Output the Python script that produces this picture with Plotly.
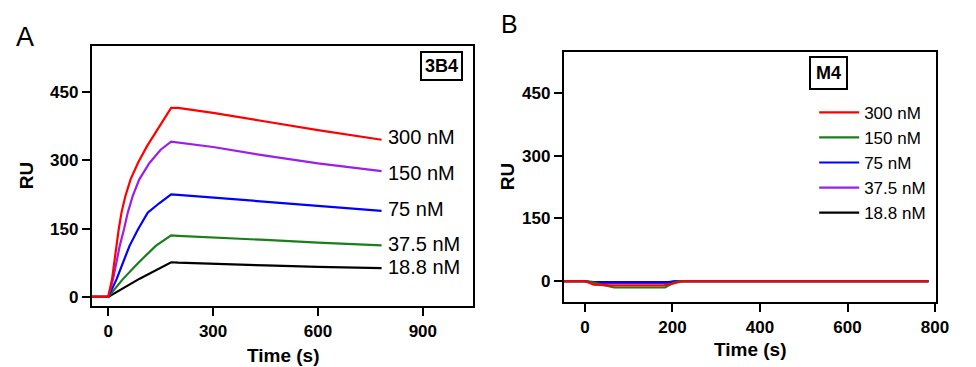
import plotly.graph_objects as go

# ---------------- Data ----------------
labels = ["300 nM", "150 nM", "75 nM", "37.5 nM", "18.8 nM"]

# Panel A (3B4): association (0-180 s) and dissociation (180-782 s)
t_a_300 = [-47, 0, 11, 23, 30, 38, 49, 64, 85, 111, 141, 165, 180, 200, 300, 450, 600, 782]
ru_a_300 = [0, 0, 39, 112, 148, 185, 221, 258, 294, 331, 367, 397, 415, 415, 404, 385, 366, 345]
t_a_150 = [-47, 0, 14, 33, 45, 56, 70, 89, 118, 150, 180, 200, 300, 450, 600, 782]
ru_a_150 = [0, 0, 39, 112, 148, 185, 221, 258, 294, 323, 341, 339, 329, 310, 293, 276]
t_a_75 = [-47, 0, 24, 42, 61, 85, 113, 145, 180, 200, 300, 450, 600, 782]
ru_a_75 = [0, 0, 39, 74, 112, 148, 185, 205, 225, 224, 218, 208, 199, 189]
t_a_37 = [-47, 0, 42, 85, 136, 180, 200, 300, 450, 600, 782]
ru_a_37 = [0, 0, 39, 74, 112, 135, 134, 131, 125, 119, 113]
t_a_18 = [-47, 0, 90, 180, 200, 300, 450, 600, 782]
ru_a_18 = [0, 0, 40, 76, 75, 72, 69, 66, 63]

# Panel B (M4)
t_b_300 = [-48, 0, 8, 20, 60, 180, 200, 222, 400, 600, 785]
ru_b_300 = [0, 0, -3, -8, -10, -10, -6, 0, 0, 0, 0]
t_b_150 = [-48, 0, 20, 67, 183, 200, 215, 785]
ru_b_150 = [0, 0, -4, -15, -15, -5, 0, 0]
t_b_75 = [-48, 0, 19, 188, 205, 785]
ru_b_75 = [0, 0, -3, -3, 0, 0]
t_b_37 = [-48, 0, 8, 30, 190, 207, 215, 785]
ru_b_37 = [0, 0, -2, -4, -4, -2, 0, 0]
t_b_18 = [-48, 0, 20, 190, 210, 785]
ru_b_18 = [0, 0, -2, -2, 0, 0]

ticks_a_x = [0, 300, 600, 900]
ticks_b_x = [0, 200, 400, 600, 800]
ticks_y = [0, 150, 300, 450]

colors_a = ["#ff0000", "#9b1fe8", "#0000ff", "#1a7f1a", "#000000"]
colors_b = ["#ff0000", "#1a7f1a", "#0000ff", "#9b1fe8", "#000000"]

FONT = "Arial, Liberation Sans, sans-serif"
# The page body has an 8px margin; lay out in reference pixels and shift.
OFF = 8
W, H = 976 - OFF, 367 - OFF


def fx(p):
    return (p - OFF) / W


def fy(p):
    return 1 - (p - OFF) / H


fig = go.Figure()

series_a = [(t_a_300, ru_a_300), (t_a_150, ru_a_150), (t_a_75, ru_a_75),
            (t_a_37, ru_a_37), (t_a_18, ru_a_18)]
for i in reversed(range(5)):
    t, r = series_a[i]
    fig.add_trace(go.Scatter(x=t, y=r, mode="lines",
                             line=dict(color=colors_a[i], width=2.2),
                             xaxis="x", yaxis="y", showlegend=False,
                             name=labels[i]))

series_b = [(t_b_300, ru_b_300), (t_b_150, ru_b_150), (t_b_75, ru_b_75),
            (t_b_37, ru_b_37), (t_b_18, ru_b_18)]
for i in reversed(range(5)):
    t, r = series_b[i]
    fig.add_trace(go.Scatter(x=t, y=r, mode="lines",
                             line=dict(color=colors_b[i], width=2.2),
                             xaxis="x2", yaxis="y2", showlegend=True,
                             name=labels[i]))

label_y_a = [352, 272, 194, 117, 65]

axis_common = dict(showline=True, linecolor="black", linewidth=2, mirror=True,
                   ticks="outside", ticklen=8, tickwidth=2, tickcolor="black",
                   showgrid=False, zeroline=False,
                   tickfont=dict(family=FONT, size=17, color="black", weight="bold"))

fig.update_layout(
    width=W, height=H,
    margin=dict(l=0, r=0, t=0, b=0),
    paper_bgcolor="white", plot_bgcolor="white",
    font=dict(family=FONT, color="black"),
    xaxis=dict(domain=[fx(93), fx(480)], range=[-47, 1044], tickvals=ticks_a_x,
               anchor="y", **axis_common),
    yaxis=dict(domain=[fy(307), fy(46)], range=[-20.4, 551], tickvals=ticks_y,
               anchor="x", **axis_common),
    xaxis2=dict(domain=[fx(572), fx(949.3)], range=[-48.3, 801.5], tickvals=ticks_b_x,
                anchor="y2", **axis_common),
    yaxis2=dict(domain=[fy(303.3), fy(51.7)], range=[-50.8, 549], tickvals=ticks_y,
                anchor="x2", **axis_common),
    legend=dict(x=fx(826), y=fy(95), xanchor="left", yanchor="top",
                traceorder="reversed", bgcolor="rgba(0,0,0,0)",
                font=dict(family=FONT, size=17, color="black"),
                itemwidth=40, tracegroupgap=0),
)

annotations = []
for lab, yv in zip(labels, label_y_a):
    annotations.append(dict(x=795, y=yv, xref="x", yref="y", text=lab,
                            showarrow=False, xanchor="left", yanchor="middle",
                            font=dict(family=FONT, size=20, color="black")))

title_font = dict(family=FONT, size=19, color="black", weight="bold")
annotations += [
    # axis titles
    dict(x=fx(287.5), y=fy(356), xref="paper", yref="paper", text="Time (s)",
         showarrow=False, xanchor="center", yanchor="middle", font=title_font),
    dict(x=fx(761), y=fy(350), xref="paper", yref="paper", text="Time (s)",
         showarrow=False, xanchor="center", yanchor="middle", font=title_font),
    dict(x=fx(27), y=fy(176), xref="paper", yref="paper", text="RU", textangle=-90,
         showarrow=False, xanchor="center", yanchor="middle", font=title_font),
    dict(x=fx(515), y=fy(177), xref="paper", yref="paper", text="RU", textangle=-90,
         showarrow=False, xanchor="center", yanchor="middle", font=title_font),
    # boxed panel names
    dict(x=fx(448), y=fy(66), xref="paper", yref="paper", text="3B4",
         showarrow=False, xanchor="center", yanchor="middle",
         font=dict(family=FONT, size=18, color="black", weight="bold"),
         bordercolor="black", borderwidth=2, borderpad=3, bgcolor="white"),
    dict(x=fx(841), y=fy(73), xref="paper", yref="paper", text="M4",
         showarrow=False, xanchor="center", yanchor="middle",
         font=dict(family=FONT, size=18, color="black", weight="bold"),
         bordercolor="black", borderwidth=2, borderpad=5, bgcolor="white"),
    # panel letters
    dict(x=fx(25), y=fy(37), xref="paper", yref="paper", text="A",
         showarrow=False, xanchor="center", yanchor="middle",
         font=dict(family=FONT, size=27, color="black")),
    dict(x=fx(517), y=fy(24.5), xref="paper", yref="paper", text="B",
         showarrow=False, xanchor="center", yanchor="middle",
         font=dict(family=FONT, size=25, color="black")),
]
fig.update_layout(annotations=annotations)

fig.write_html("out.html")
